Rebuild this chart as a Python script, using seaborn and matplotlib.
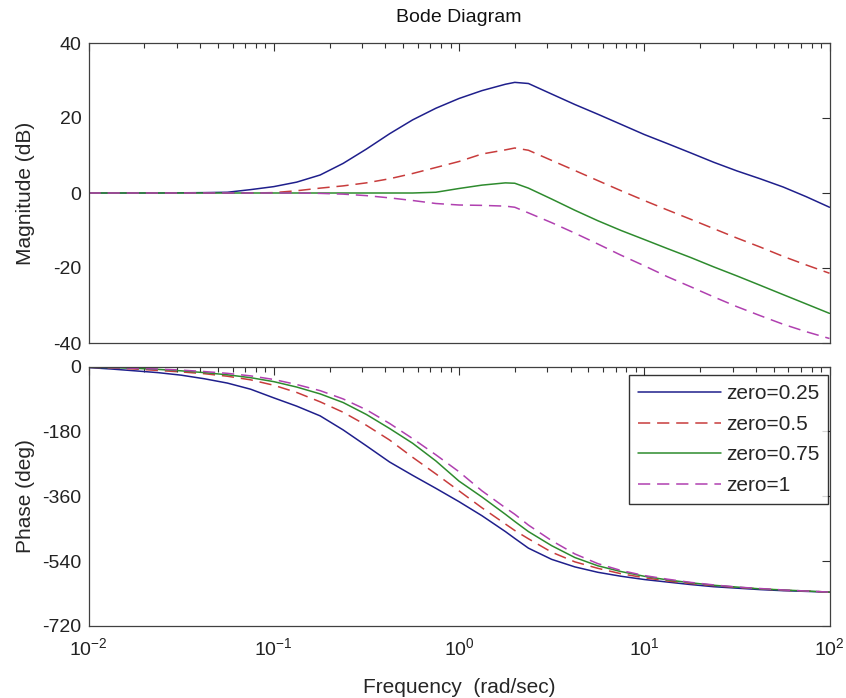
import numpy as np
import pandas as pd
import matplotlib
matplotlib.use("Agg")
import matplotlib.pyplot as plt
import seaborn as sns
from matplotlib.ticker import LogLocator, FixedLocator

# ---- data ----
freq = [0.01, 0.0133, 0.0178, 0.0237, 0.0316, 0.0422, 0.0562, 0.075, 0.1, 0.133,
        0.178, 0.237, 0.316, 0.422, 0.562, 0.75, 1.0, 1.33, 1.78, 2.0, 2.37, 3.16,
        4.22, 5.62, 7.5, 10, 13.3, 17.8, 23.7, 31.6, 42.2, 56.2, 75, 100]

series_names = ["zero=0.25", "zero=0.5", "zero=0.75", "zero=1"]

mag_025 = [0, 0, 0, 0, 0.05, 0.1, 0.2, 0.9, 1.7, 2.9, 4.8, 7.9, 11.7, 15.8, 19.5, 22.6,
           25.2, 27.3, 29.0, 29.5, 29.2, 26.4, 23.6, 21.0, 18.3, 15.6, 13.2, 10.7, 8.2,
           5.9, 3.8, 1.6, -1.0, -3.8]
mag_05 = [0, 0, 0, 0, 0, 0, 0, 0, 0.1, 0.6, 1.3, 1.9, 2.7, 3.8, 5.2, 6.8, 8.4, 10.4,
          11.5, 12.0, 11.4, 8.7, 6.0, 3.3, 0.6, -2.0, -4.5, -7.0, -9.5, -12.0, -14.4,
          -16.9, -19.2, -21.4]
mag_075 = [0, 0, 0, 0, 0, 0, 0, 0, 0, 0, 0, 0, 0, 0, 0, 0.2, 1.2, 2.1, 2.7, 2.6, 1.3,
           -1.6, -4.6, -7.4, -10.0, -12.4, -14.8, -17.2, -19.7, -22.1, -24.6, -27.1,
           -29.6, -32.1]
mag_1 = [0, 0, 0, 0, 0, 0, 0, 0, 0, 0, -0.1, -0.3, -0.7, -1.3, -2.0, -2.8, -3.2, -3.3,
         -3.5, -3.8, -5.3, -7.9, -10.7, -13.6, -16.6, -19.4, -22.3, -25.0, -27.7, -30.3,
         -32.7, -35.0, -37.0, -38.8]

ph_025 = [-3, -7, -12, -17, -24, -34, -46, -63, -87, -110, -137, -176, -220, -265, -302,
          -338, -375, -414, -458, -477, -504, -535, -556, -571, -582, -591, -598, -605,
          -611, -615, -619, -622, -624, -626]
ph_05 = [-2, -4, -7, -11, -15, -20, -27, -37, -52, -72, -98, -127, -163, -204, -252,
         -298, -345, -392, -437, -455, -478, -515, -542, -560, -575, -586, -595, -602,
         -608, -613, -617, -621, -623, -626]
ph_075 = [-2, -3, -5, -8, -12, -17, -23, -31, -42, -57, -76, -100, -133, -172, -213,
          -262, -318, -362, -410, -430, -458, -497, -530, -553, -569, -582, -592, -600,
          -607, -612, -617, -620, -623, -626]
ph_1 = [-1, -3, -5, -7, -10, -14, -19, -26, -36, -50, -67, -90, -120, -158, -200, -245,
        -292, -345, -392, -410, -440, -483, -520, -547, -566, -580, -590, -599, -606,
        -612, -616, -620, -623, -626]

mag_ticks = [-40, -20, 0, 20, 40]
phase_ticks = [0, -180, -360, -540, -720]
x_ticks = [1e-2, 1e-1, 1e0, 1e1, 1e2]

# ---- build tidy table ----
mags = [mag_025, mag_05, mag_075, mag_1]
phs = [ph_025, ph_05, ph_075, ph_1]
frames = []
for name, m, p in zip(series_names, mags, phs):
    frames.append(pd.DataFrame({"freq": freq, "mag": m, "phase": p, "series": name}))
df = pd.concat(frames, ignore_index=True)

palette = {"zero=0.25": "#1f1f8c", "zero=0.5": "#c83c3c",
           "zero=0.75": "#2e8b2e", "zero=1": "#b040b0"}
dashes = {"zero=0.25": "", "zero=0.5": (8, 4.5), "zero=0.75": "", "zero=1": (8, 4.5)}

sns.set_style("white")
plt.rcParams["font.family"] = ["Liberation Sans Narrow", "Liberation Sans", "DejaVu Sans"]
plt.rcParams["mathtext.default"] = "regular"
plt.rcParams["axes.unicode_minus"] = False

W, H = 846, 698
fig = plt.figure(figsize=(W / 100, H / 100), dpi=100)
L, R = 88.5, 829.5
ax1 = fig.add_axes([L / W, 1 - 343 / H, (R - L) / W, (343 - 43) / H])
ax2 = fig.add_axes([L / W, 1 - 626 / H, (R - L) / W, (626 - 366.5) / H], sharex=ax1)

sns.lineplot(data=df, x="freq", y="mag", hue="series", style="series",
             palette=palette, dashes=dashes, hue_order=series_names,
             style_order=series_names, linewidth=1.1, ax=ax1, legend=False,
             estimator=None)
sns.lineplot(data=df, x="freq", y="phase", hue="series", style="series",
             palette=palette, dashes=dashes, hue_order=series_names,
             style_order=series_names, linewidth=1.1, ax=ax2, legend=True,
             estimator=None)

for ax in (ax1, ax2):
    ax.set_xscale("log")
    ax.set_xlim(1e-2, 1e2)
    ax.xaxis.set_major_locator(FixedLocator(x_ticks))
    ax.xaxis.set_minor_locator(LogLocator(base=10, subs=np.arange(2, 10)))
    ax.tick_params(which="both", direction="in", top=True, right=True,
                   colors="#303030", labelcolor="#222222", labelsize=14)
    ax.tick_params(which="major", length=6, width=0.8)
    ax.tick_params(which="minor", length=3.5, width=0.8)
    for s in ax.spines.values():
        s.set_color("#404040")
        s.set_linewidth(0.9)
    ax.set_facecolor("white")

ax1.set_ylim(-40, 40)
ax1.set_yticks(mag_ticks)
ax1.tick_params(axis="x", labelbottom=False)
ax1.set_xlabel("")
ax1.set_ylabel("Magnitude (dB)", fontsize=15)
ax1.yaxis.set_label_coords(-0.072, 0.5)
ax1.tick_params(axis="y", pad=5)

ax2.set_ylim(-720, 0)
ax2.set_yticks(phase_ticks)
ax2.set_ylabel("Phase (deg)", fontsize=15)
ax2.yaxis.set_label_coords(-0.072, 0.5)
ax2.tick_params(axis="y", pad=5)
ax2.tick_params(axis="x", pad=8)
ax2.set_xlabel("Frequency  (rad/sec)", fontsize=15)
ax2.xaxis.set_label_coords(0.5, -0.2)

handles, labels = ax2.get_legend_handles_labels()
pairs = [(h, l) for h, l in zip(handles, labels) if l in series_names]
leg = ax2.legend([p[0] for p in pairs], [p[1] for p in pairs],
                 loc="upper right", bbox_to_anchor=(0.9985, 0.967),
                 borderaxespad=0, frameon=True, fancybox=False,
                 edgecolor="black", fontsize=15, handlelength=4.0,
                 handletextpad=0.2, labelspacing=0.55, borderpad=0.45)
leg.get_frame().set_linewidth(1.0)
for line in leg.get_lines():
    line.set_linewidth(1.1)

fig.text(459 / W, 1 - 17 / H, "Bode Diagram", ha="center", va="center",
         fontsize=14, color="#111111")

fig.savefig("out.png", dpi=100)
